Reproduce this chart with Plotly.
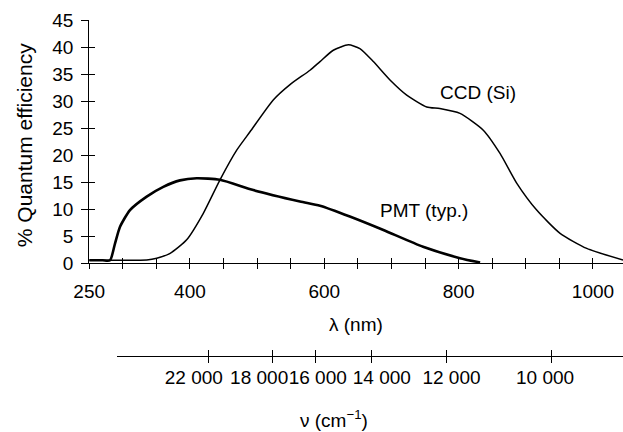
import plotly.graph_objects as go

# ---- data ----
ccd_nm = [250, 300, 335.6, 350.5, 370.5, 395.1, 419.9, 444.7, 469.6, 489.4,
          524, 548.5, 578.7, 593.6, 613.4, 635.8, 653, 673, 697.8, 722.7, 752.5, 772,
          802, 836.7, 861.6, 886.4, 916.2, 951, 990.7, 1044.7]
ccd_qe = [0.5, 0.5, 0.55, 0.87, 1.8, 4.3, 9.2, 15.4, 20.9, 24.3,
          30.2, 33.0, 35.7, 37.3, 39.4, 40.4, 39.7, 37.3, 33.9, 31.1, 28.9, 28.6,
          27.7, 24.6, 20.3, 14.8, 9.8, 5.5, 2.7, 0.55]

pmt_nm = [250, 270, 281, 288.4, 295.9, 310.7, 335.6, 360.3, 385.2, 410, 444.7,
          494.3, 563.8, 593.6, 638, 688, 747, 802, 832]
pmt_qe = [0.5, 0.5, 0.5, 3.6, 6.7, 9.8, 12.3, 14.1, 15.3, 15.7, 15.4,
          13.5, 11.4, 10.6, 8.6, 6.1, 3.0, 0.9, 0.1]

lam_ticks = list(range(250, 1001, 50))
lam_labels = [250, 400, 600, 800, 1000]
qe_ticks = list(range(0, 46, 5))

wavenumbers = [22000, 18000, 16000, 14000, 12000, 10000]
wavenumber_text = ["22 000", "18 000", "16 000", "14 000", "12 000", "10 000"]
# horizontal nudges (px) of the wavenumber labels relative to their ticks, to avoid overlap
label_nudge_px = [-15, -13, 2, 10, 5, -6]

FONT = "Liberation Sans, Arial, sans-serif"
FS = 19
W, H = 623, 432

fig = go.Figure()
fig.add_trace(go.Scatter(x=ccd_nm, y=ccd_qe, mode="lines",
                         line=dict(color="black", width=1.5, shape="spline", smoothing=0.6),
                         showlegend=False, hoverinfo="skip"))
fig.add_trace(go.Scatter(x=pmt_nm, y=pmt_qe, mode="lines",
                         line=dict(color="black", width=2.6, shape="spline", smoothing=0.6),
                         showlegend=False, hoverinfo="skip"))
# invisible traces to activate twin / secondary axes
fig.add_trace(go.Scatter(x=[None], y=[None], xaxis="x3", yaxis="y2", showlegend=False, hoverinfo="skip"))
fig.add_trace(go.Scatter(x=[None], y=[None], xaxis="x2", yaxis="y", showlegend=False, hoverinfo="skip"))
fig.add_trace(go.Scatter(x=[None], y=[None], xaxis="x4", yaxis="y", showlegend=False, hoverinfo="skip"))
fig.add_trace(go.Scatter(x=[None], y=[None], xaxis="x5", yaxis="y", showlegend=False, hoverinfo="skip"))

xdom = [89.2 / W, 1.0]
ydom = [(H - 263) / H, (H - 20) / H]
xr = [250, 1044.7]

common = dict(showgrid=False, zeroline=False, tickcolor="black", tickwidth=1, automargin=False,
              tickfont=dict(family=FONT, size=FS, color="black"))

sec_dom = [116.7 / W, 1.0]
sec_range = [307.8, 1114.6]
sec_pos = (H - 356) / H
sec_vals = [1e7 / v for v in wavenumbers]
nm_per_px = (sec_range[1] - sec_range[0]) / ((sec_dom[1] - sec_dom[0]) * W)
sec_label_vals = [v + d * nm_per_px for v, d in zip(sec_vals, label_nudge_px)]

fig.update_layout(
    width=W, height=H, margin=dict(l=0, r=0, t=0, b=0, autoexpand=False),
    paper_bgcolor="white", plot_bgcolor="rgba(0,0,0,0)",
    xaxis=dict(domain=xdom, range=xr, anchor="y", showline=True, linecolor="black", linewidth=1,
               tickmode="array", tickvals=lam_labels,
               ticks="outside", ticklen=5, ticklabelstandoff=6,
               minor=dict(tickmode="array", tickvals=lam_ticks, ticks="outside", ticklen=5,
                          tickcolor="black", tickwidth=1, showgrid=False),
               **common),
    xaxis3=dict(overlaying="x", range=xr, anchor="y", showline=False,
                tickmode="array", tickvals=lam_ticks, showticklabels=False,
                ticks="inside", ticklen=5, **common),
    yaxis=dict(domain=ydom, range=[0, 45], anchor="x", showline=True, linecolor="black", linewidth=1,
               tickmode="array", tickvals=qe_ticks,
               ticks="outside", ticklen=7, ticklabelstandoff=4, **common),
    yaxis2=dict(overlaying="y", range=[0, 45], anchor="x", showline=False,
                tickmode="array", tickvals=qe_ticks, showticklabels=False,
                ticks="inside", ticklen=6, **common),
    # secondary (wavenumber) axis: line + labels
    xaxis2=dict(domain=sec_dom, range=sec_range, anchor="free", position=sec_pos,
                showline=True, linecolor="black", linewidth=1,
                tickmode="array", tickvals=sec_label_vals, ticktext=wavenumber_text, tickangle=0,
                ticks="", ticklabelstandoff=4, **common),
    # its ticks, crossing the line
    xaxis4=dict(overlaying="x2", range=sec_range, anchor="free", position=sec_pos, showline=False,
                tickmode="array", tickvals=sec_vals, showticklabels=False,
                ticks="outside", ticklen=6, side="bottom", **common),
    xaxis5=dict(overlaying="x2", range=sec_range, anchor="free", position=sec_pos, showline=False,
                tickmode="array", tickvals=sec_vals, showticklabels=False,
                ticks="inside", ticklen=6, side="bottom", **common),
    annotations=[
        dict(text="% Quantum efficiency", xref="paper", yref="paper", x=24.5 / W, y=(H - 145.7) / H,
             textangle=-90, showarrow=False, xanchor="center", yanchor="middle",
             font=dict(family=FONT, size=21, color="black")),
        dict(text="λ (nm)", xref="paper", yref="paper", x=356 / W, y=(H - 324) / H,
             showarrow=False, xanchor="center", yanchor="middle",
             font=dict(family=FONT, size=19, color="black")),
        dict(text="ν (cm<sup>−1</sup>)", xref="paper", yref="paper", x=334.5 / W, y=(H - 419) / H,
             showarrow=False, xanchor="center", yanchor="middle",
             font=dict(family=FONT, size=19, color="black")),
        dict(text="CCD (Si)", x=828.8, y=31.6, xref="x", yref="y", showarrow=False,
             font=dict(family=FONT, size=19, color="black")),
        dict(text="PMT (typ.)", x=748.4, y=9.8, xref="x", yref="y", showarrow=False,
             font=dict(family=FONT, size=19, color="black")),
    ],
)

fig.write_html("out.html")
